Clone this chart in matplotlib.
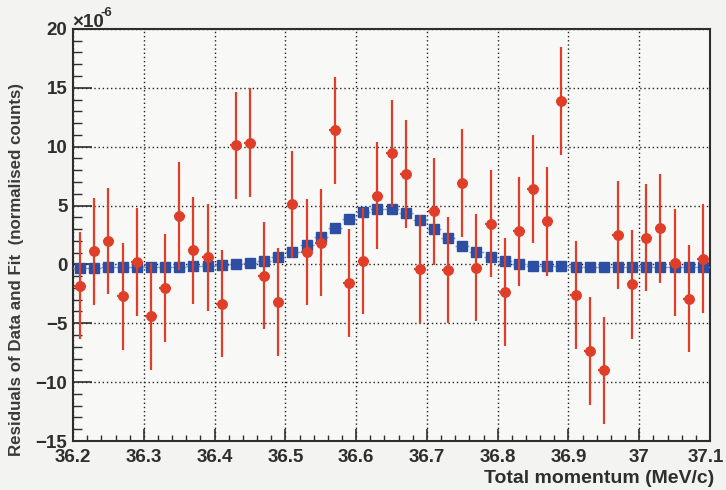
import numpy as np
import matplotlib
matplotlib.use('Agg')
import matplotlib.pyplot as plt
import matplotlib.transforms as mtransforms
from matplotlib.ticker import MultipleLocator

plt.rcParams['font.family'] = ['Liberation Sans', 'DejaVu Sans']
plt.rcParams['font.weight'] = 'bold'

# bin centres (MeV/c)
momentum = [36.21, 36.23, 36.25, 36.27, 36.29, 36.31, 36.33, 36.35, 36.37, 36.39,
            36.41, 36.43, 36.45, 36.47, 36.49, 36.51, 36.53, 36.55, 36.57, 36.59,
            36.61, 36.63, 36.65, 36.67, 36.69, 36.71, 36.73, 36.75, 36.77, 36.79,
            36.81, 36.83, 36.85, 36.87, 36.89, 36.91, 36.93, 36.95, 36.97, 36.99,
            37.01, 37.03, 37.05, 37.07, 37.09]

# residuals of data (x1e-6)
resid_data = [-1.8, 1.1, 1.95, -2.7, 0.2, -4.4, -2.0, 4.1, 1.2, 0.6,
              -3.35, 10.1, 10.35, -0.95, -3.2, 5.1, 1.05, 1.85, 11.4, -1.6,
              0.25, 5.85, 9.45, 7.65, -0.4, 4.5, -0.5, 6.9, -0.3, 3.45,
              -2.35, 2.8, 6.4, 3.65, 13.9, -2.6, -7.35, -9.0, 2.5, -1.7,
              2.25, 3.05, 0.15, -2.9, 0.5]

resid_err = [4.53, 4.55, 4.5, 4.55, 4.55, 4.55, 4.55, 4.58, 4.55, 4.55,
             4.55, 4.58, 4.6, 4.55, 4.55, 4.56, 4.53, 4.55, 4.55, 4.6,
             4.5, 4.53, 4.55, 4.6, 4.6, 4.54, 4.5, 4.6, 4.55, 4.55,
             4.57, 4.6, 4.62, 4.6, 4.6, 4.62, 4.6, 4.55, 4.55, 4.6,
             4.55, 4.6, 4.55, 4.57, 4.6]

# residuals of fit (x1e-6)
resid_fit = [-0.31, -0.27, -0.25, -0.25, -0.2, -0.23, -0.2, -0.23, -0.15, -0.15,
             -0.08, 0.0, 0.14, 0.28, 0.62, 1.08, 1.62, 2.33, 3.1, 3.83,
             4.45, 4.68, 4.68, 4.37, 3.74, 3.04, 2.27, 1.56, 1.05, 0.62,
             0.25, 0.05, -0.1, -0.1, -0.13, -0.2, -0.2, -0.2, -0.24, -0.2,
             -0.2, -0.2, -0.2, -0.24, -0.24]

x_ticks = [36.2, 36.3, 36.4, 36.5, 36.6, 36.7, 36.8, 36.9, 37.0, 37.1]
x_ticklabels = ['36.2', '36.3', '36.4', '36.5', '36.6', '36.7', '36.8', '36.9', '37', '37.1']

red = '#e03e28'
blue = '#2c4fa3'
dark = '#2e2e2e'

fig = plt.figure(figsize=(7.26, 4.90), dpi=100, facecolor='#f3f3f1')
ax = fig.add_axes([0.1006, 0.1, 0.8774, 0.841])
ax.set_facecolor('#f8f8f6')

# fit residuals
ax.errorbar(momentum, resid_fit, xerr=0.01, fmt='s', color=blue, ms=6.8,
            ecolor='#7f9ad6', elinewidth=1.0, capsize=0, zorder=3)
# data residuals
ax.errorbar(momentum, resid_data, yerr=resid_err, xerr=0.008, fmt='o', color=red,
            ms=6.8, ecolor=red, elinewidth=1.6, capsize=0, zorder=4)

ax.set_xlim(36.2, 37.1)
ax.set_ylim(-15, 20)
ax.set_xticks(x_ticks)
ax.set_xticklabels(x_ticklabels)
ax.xaxis.set_minor_locator(MultipleLocator(0.02))
ax.yaxis.set_major_locator(MultipleLocator(5))
ax.yaxis.set_minor_locator(MultipleLocator(1))

ax.grid(True, which='major', color='#222222', linestyle=(0, (1, 2)), linewidth=1.0)
ax.tick_params(axis='x', which='major', direction='in', length=9, width=1.2,
               labelsize=13.5, colors=dark, pad=6, top=False)
ax.tick_params(axis='x', which='minor', direction='in', length=4.5, width=1.0,
               colors=dark, top=False)
ax.tick_params(axis='y', which='major', direction='in', length=13.5, width=1.2,
               labelsize=13.5, colors=dark, pad=4, right=False)
ax.tick_params(axis='y', which='minor', direction='in', length=6.8, width=1.0,
               colors=dark, right=False)
for lab in ax.get_xticklabels() + ax.get_yticklabels():
    lab.set_fontweight('bold')
# keep the last x label inside the figure
last = ax.get_xticklabels()[-1]
last.set_transform(last.get_transform() +
                   mtransforms.ScaledTranslation(-3 / 72, 0, fig.dpi_scale_trans))
for sp in ax.spines.values():
    sp.set_linewidth(1.5)
    sp.set_color(dark)

ax.set_xlabel('Total momentum (MeV/c)', fontsize=14, fontweight='bold', color=dark)
ax.xaxis.set_label_coords(1.006, -0.09)
ax.xaxis.label.set_ha('right')
ax.xaxis.label.set_va('center')
ax.set_ylabel('Residuals of Data and Fit  (normalised counts)', fontsize=12.2,
              fontweight='bold', color='#3a3a3a')
ax.yaxis.set_label_coords(-0.088, 0.415)
ax.yaxis.label.set_va('center')

fig.text(0.099, 0.944, '\u00d710', fontsize=13.5, fontweight='bold', color=dark,
         ha='left', va='baseline')
fig.text(0.139, 0.968, '-6', fontsize=9.5, fontweight='bold', color=dark,
         ha='left', va='baseline')

fig.savefig('out.png', dpi=100, facecolor=fig.get_facecolor())
